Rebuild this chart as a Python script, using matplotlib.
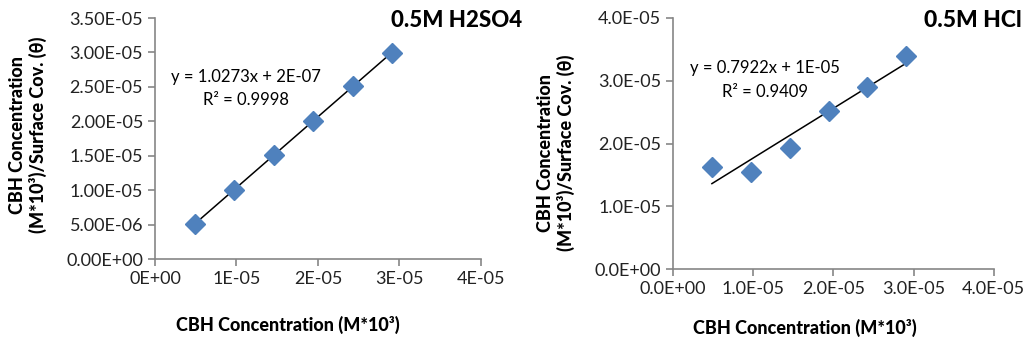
import numpy as np
import matplotlib
matplotlib.use('Agg')
import matplotlib.pyplot as plt
from matplotlib.ticker import FormatStrFormatter

plt.rcParams['font.family'] = ['Lato', 'DejaVu Sans']

# data
conc = [4.85e-6, 9.7e-6, 1.455e-5, 1.94e-5, 2.425e-5, 2.91e-5]
h2so4 = [5.03e-6, 1.002e-5, 1.515e-5, 2.0e-5, 2.52e-5, 2.99e-5]
hcl = [1.634e-5, 1.554e-5, 1.931e-5, 2.525e-5, 2.897e-5, 3.395e-5]

gray = '#868686'
blue = '#4F81BD'
ylab = 'CBH Concentration\n(M*10³)/Surface Cov. (θ)'
xlab = 'CBH Concentration (M*10³)'

fig = plt.figure(figsize=(10.25, 3.44), dpi=100)
ax1 = fig.add_axes([0.1512, 0.247, 0.318, 0.7005])
ax2 = fig.add_axes([0.6566, 0.2172, 0.3129, 0.7305])


def style(ax):
    for s in ['top', 'right']:
        ax.spines[s].set_visible(False)
    for s in ['left', 'bottom']:
        ax.spines[s].set_color(gray)
        ax.spines[s].set_linewidth(1.2)
    ax.tick_params(colors=gray, labelcolor='#222222', labelsize=13, length=5, width=1.2)


def draw(ax, y):
    x = np.array(conc)
    y = np.array(y)
    m, b = np.polyfit(x, y, 1)
    xs = np.array([x.min(), x.max()])
    ax.plot(xs, m * xs + b, color='black', lw=1.1, zorder=2)
    ax.plot(x, y, 'D', color=blue, ms=10, mec=blue, zorder=3, clip_on=False)


# left: H2SO4
draw(ax1, h2so4)
style(ax1)
ax1.set_xlim(0, 4e-5)
ax1.set_ylim(0, 3.5e-5)
ax1.set_xticks([0, 1e-5, 2e-5, 3e-5, 4e-5])
ax1.set_yticks(np.arange(0, 3.6e-5, 5e-6))
ax1.xaxis.set_major_formatter(FormatStrFormatter('%.0E'))
ax1.yaxis.set_major_formatter(FormatStrFormatter('%.2E'))
ax1.text(1.117e-5, 2.643e-5, 'y = 1.0273x + 2E-07', fontsize=12, ha='center', va='center')
ax1.text(1.117e-5, 2.309e-5, 'R² = 0.9998', fontsize=12, ha='center', va='center')
fig.text(0.509, 0.94, '0.5M H2SO4', fontsize=16, fontweight='black', ha='right', va='center')
fig.text(288 / 1025, 1 - 325 / 344, xlab, fontsize=13, fontweight='black', ha='center', va='center')
fig.text(28 / 1025, 1 - 135 / 344, ylab, fontsize=13, fontweight='black', ha='center', va='center',
         rotation=90, multialignment='center')

# right: HCl
draw(ax2, hcl)
style(ax2)
ax2.set_xlim(0, 4e-5)
ax2.set_ylim(0, 4e-5)
ax2.set_xticks([0, 1e-5, 2e-5, 3e-5, 4e-5])
ax2.set_yticks([0, 1e-5, 2e-5, 3e-5, 4e-5])
ax2.xaxis.set_major_formatter(FormatStrFormatter('%.1E'))
ax2.yaxis.set_major_formatter(FormatStrFormatter('%.1E'))
ax2.text(1.147e-5, 3.204e-5, 'y = 0.7922x + 1E-05', fontsize=12, ha='center', va='center')
ax2.text(1.147e-5, 2.822e-5, 'R² = 0.9409', fontsize=12, ha='center', va='center')
fig.text(0.997, 0.94, '0.5M HCl', fontsize=16.5, fontweight='black', ha='right', va='center')
fig.text(805 / 1025, 1 - 328 / 344, xlab, fontsize=13, fontweight='black', ha='center', va='center')
fig.text(556 / 1025, 1 - 153 / 344, ylab, fontsize=13, fontweight='black', ha='center', va='center',
         rotation=90, multialignment='center')

plt.savefig('out.png', dpi=100)
